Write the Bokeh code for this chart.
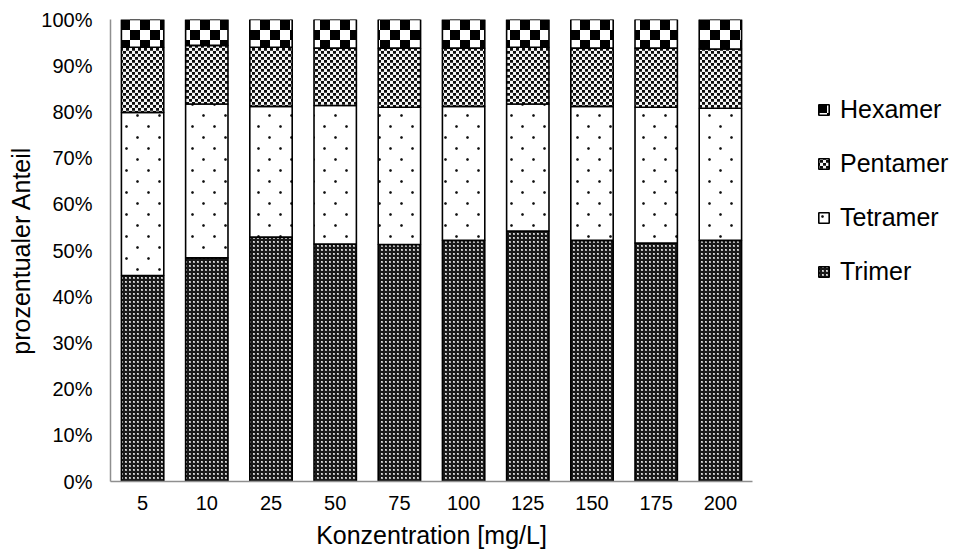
import base64, struct, zlib
import numpy as np
from bokeh.plotting import figure
from bokeh.layouts import row
from bokeh.core.properties import value
from bokeh.models import (ColumnDataSource, FactorRange, Range1d, FixedTicker,
                          NumeralTickFormatter, Legend, LegendItem, ImageURLTexture)
from bokeh.embed import file_html
from bokeh.resources import INLINE

# ---------------- data ----------------
categories = ["5", "10", "25", "50", "75", "100", "125", "150", "175", "200"]
trimer   = [44.6, 48.4, 52.9, 51.4, 51.3, 52.2, 54.2, 52.2, 51.6, 52.2]
tetramer = [35.3, 33.3, 28.3, 30.0, 29.7, 29.0, 27.5, 29.0, 29.4, 28.6]
pentamer = [14.1, 12.7, 12.8, 12.4, 12.8, 12.6, 12.3, 12.6, 12.8, 12.8]
hexamer  = [6.0, 5.6, 6.0, 6.2, 6.2, 6.2, 6.0, 6.2, 6.2, 6.4]
series = ["Trimer", "Tetramer", "Pentamer", "Hexamer"]
y_ticks = [0, 0.1, 0.2, 0.3, 0.4, 0.5, 0.6, 0.7, 0.8, 0.9, 1.0]

FONT = "Liberation Sans"

# ---------------- textures (PNG tiles) ----------------
def png_url(arr):
    arr = np.asarray(arr, dtype=np.uint8)
    h, w = arr.shape
    raw = b"".join(b"\x00" + arr[i].tobytes() for i in range(h))
    def chunk(t, d):
        return (struct.pack(">I", len(d)) + t + d +
                struct.pack(">I", zlib.crc32(t + d) & 0xFFFFFFFF))
    png = (b"\x89PNG\r\n\x1a\n" +
           chunk(b"IHDR", struct.pack(">IIBBBBB", w, h, 8, 0, 0, 0, 0)) +
           chunk(b"IDAT", zlib.compress(raw)) + chunk(b"IEND", b""))
    return "data:image/png;base64," + base64.b64encode(png).decode()

t_tri = np.full((4, 4), 25); t_tri[1:3, 1:3] = 175; t_tri[1, 1] = 225

dot = np.array([[170, 60, 170], [60, 15, 60], [170, 60, 170]])
t_tet = np.full((22, 22), 255)
t_tet[4:7, 4:7] = dot
t_tet[15:18, 15:18] = dot

t_pen = np.full((6, 6), 245)
t_pen[0:3, 0:3] = 12
t_pen[3:6, 3:6] = 12
t_pen[2, 0:3] = 70; t_pen[5, 3:6] = 70

t_hex = np.full((20, 20), 255)
t_hex[0:10, 0:10] = 0
t_hex[10:20, 10:20] = 0

tex_keys = ["tex_tri", "tex_tet", "tex_pen", "tex_hex"]
hatch_extra = {k: ImageURLTexture(url=png_url(t))
               for k, t in zip(tex_keys, [t_tri, t_tet, t_pen, t_hex])}

source = ColumnDataSource(dict(
    cat=categories,
    Trimer=[v / 100 for v in trimer],
    Tetramer=[v / 100 for v in tetramer],
    Pentamer=[v / 100 for v in pentamer],
    Hexamer=[v / 100 for v in hexamer],
))

# ---------------- main chart ----------------
p = figure(width=757, height=558, x_range=FactorRange(*categories),
           y_range=Range1d(0, 1), output_backend="svg", toolbar_location=None,
           min_border_left=110, min_border_right=5, min_border_top=19,
           min_border_bottom=77)

renderers = p.vbar_stack(series, x="cat", width=0.66, source=source,
                         fill_color="white", line_color="black", line_width=1.6,
                         hatch_pattern=[value(k) for k in tex_keys],
                         hatch_extra=hatch_extra)

p.outline_line_color = None
p.xgrid.grid_line_color = None
p.ygrid.grid_line_color = None

yax = p.yaxis[0]
yax.ticker = FixedTicker(ticks=y_ticks)
yax.formatter = NumeralTickFormatter(format="0%")
xax = p.xaxis[0]
for ax in (xax, yax):
    ax.axis_line_color = "#8f8f8f"
    ax.axis_line_width = 1.5
    ax.major_tick_line_color = None
    ax.minor_tick_line_color = None
    ax.major_tick_in = 0
    ax.major_tick_out = 0
    ax.major_label_text_font = FONT
    ax.major_label_text_font_size = "20px"
    ax.major_label_text_color = "black"
    ax.axis_label_text_font = FONT
    ax.axis_label_text_font_size = "25px"
    ax.axis_label_text_font_style = "normal"
    ax.axis_label_text_color = "black"
yax.major_label_standoff = 18
yax.axis_label = "prozentualer Anteil"
yax.axis_label_standoff = 3
xax.major_label_standoff = 14
xax.axis_label = "Konzentration [mg/L]"
xax.axis_label_standoff = 8

# ---------------- legend panel ----------------
lp = figure(width=200, height=558, x_range=Range1d(0, 1), y_range=Range1d(0, 1),
            output_backend="svg", toolbar_location=None,
            x_axis_location=None, y_axis_location=None,
            min_border_left=0, min_border_right=0, min_border_top=0,
            min_border_bottom=0)
lp.outline_line_color = None
lp.grid.visible = False

# legend-only glyphs: one row whose bar has no height (nothing visible is drawn)
legend_src = ColumnDataSource(dict(x=[0.5], top=[float("nan")]))
leg_renderers = []
for k in tex_keys:
    leg_renderers.append(lp.vbar(x="x", top="top", width=0.5, source=legend_src,
                                 fill_color="white", line_color="black",
                                 line_width=1.6, hatch_pattern=value(k),
                                 hatch_extra=hatch_extra))

items = [LegendItem(label=name, renderers=[r]) for name, r in zip(series, leg_renderers)]
legend = Legend(items=items[::-1], location=(60, 195), orientation="vertical",
                label_text_font=FONT, label_text_font_size="25px",
                label_text_color="black", glyph_width=13, glyph_height=13,
                label_standoff=10, spacing=24, border_line_color=None,
                background_fill_alpha=0, padding=0, margin=0,
                label_height=30)
lp.add_layout(legend)

layout = row(p, lp)
open("out.html", "w").write(file_html(layout, INLINE))
